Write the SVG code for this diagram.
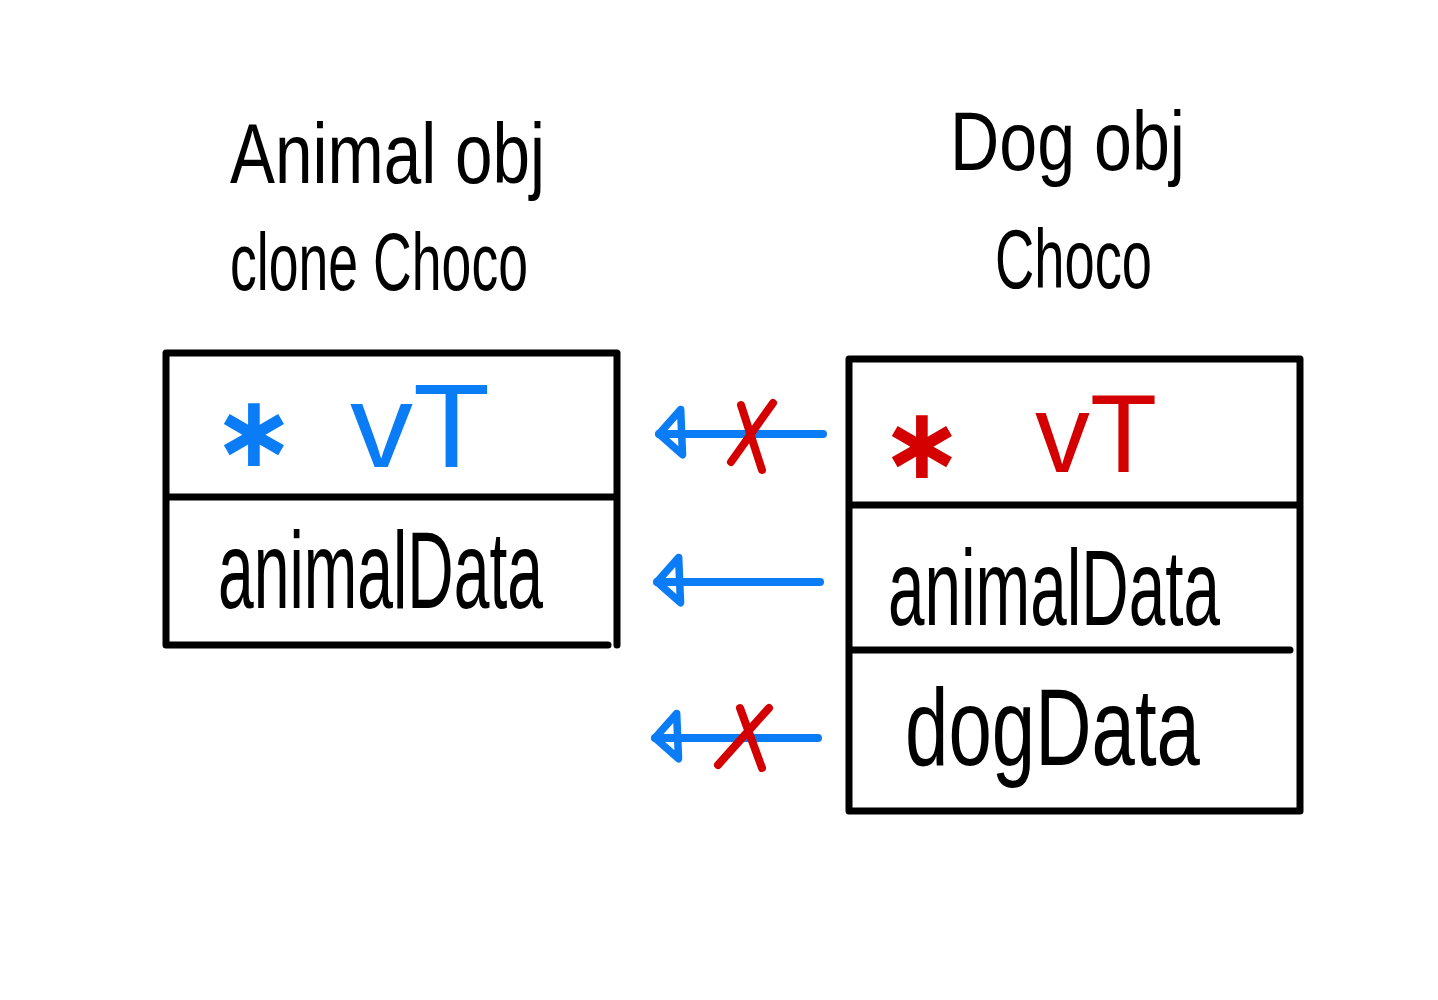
<svg xmlns="http://www.w3.org/2000/svg" width="1438" height="1000" viewBox="0 0 1438 1000">
<style>
.box{fill:none;stroke:#000;stroke-width:7;stroke-linecap:round;stroke-linejoin:round}
.t{font-family:"Liberation Sans","DejaVu Sans",sans-serif;fill:#000}
.ast{font-family:"DejaVu Sans","Liberation Sans",sans-serif;font-weight:bold}
.blue{fill:#0a7cf5}
.red{fill:#d40000}
.arr{fill:none;stroke:#0a7cf5;stroke-width:8;stroke-linecap:round;stroke-linejoin:round}
.x{fill:none;stroke:#d40000;stroke-width:8;stroke-linecap:round}
</style>
<defs>
<marker id="head" markerUnits="userSpaceOnUse" markerWidth="44" markerHeight="64" viewBox="-36 -36 44 68" refX="0" refY="0" orient="auto">
<path d="M0,0 L-25,-22 L-23,26 Z" fill="none" stroke="#0a7cf5" stroke-width="8" stroke-linejoin="round" stroke-linecap="round"/>
</marker>
</defs>
<rect width="1438" height="1000" fill="#fff"/>
<g id="title-animal">
<text class="t" x="230" y="183" font-size="86" textLength="315" lengthAdjust="spacingAndGlyphs">Animal obj</text>
<text class="t" x="230" y="290" font-size="82" textLength="298" lengthAdjust="spacingAndGlyphs">clone Choco</text>
</g>
<g id="title-dog">
<text class="t" x="950" y="170" font-size="84" textLength="235" lengthAdjust="spacingAndGlyphs">Dog obj</text>
<text class="t" x="995" y="288" font-size="84" textLength="157" lengthAdjust="spacingAndGlyphs">Choco</text>
</g>
<g id="animal-obj">
<path class="box" d="M166,353 H617 V645 M166,353 V645 H608 M166,497 H617"/>
<text class="t ast blue" x="254" y="466" font-size="100" text-anchor="middle">∗</text>
<text class="t blue" x="350" y="467" font-size="118" textLength="140" lengthAdjust="spacingAndGlyphs">vT</text>
<text class="t" x="218" y="608" font-size="110" textLength="325" lengthAdjust="spacingAndGlyphs">animalData</text>
</g>
<g id="dog-obj">
<path class="box" d="M849,359 H1300 V811 H849 Z M849,505 H1300 M853,650 H1290"/>
<text class="t ast red" x="922" y="478" font-size="100" text-anchor="middle">∗</text>
<text class="t red" x="1035" y="472" font-size="112" textLength="122" lengthAdjust="spacingAndGlyphs">vT</text>
<text class="t" x="888" y="625" font-size="108" textLength="332" lengthAdjust="spacingAndGlyphs">animalData</text>
<text class="t" x="905" y="765" font-size="110" textLength="295" lengthAdjust="spacingAndGlyphs">dogData</text>
</g>
<g id="connectors">
<path class="arr" d="M823,434 H659" marker-end="url(#head)"/>
<path class="x" d="M773,403 L731,462 M741,405 L762,470"/>
<path class="arr" d="M820,582 H657" marker-end="url(#head)"/>
<path class="arr" d="M818,738 H655" marker-end="url(#head)"/>
<path class="x" d="M769,708 L718,765 M740,708 L762,768"/>
</g>
</svg>
